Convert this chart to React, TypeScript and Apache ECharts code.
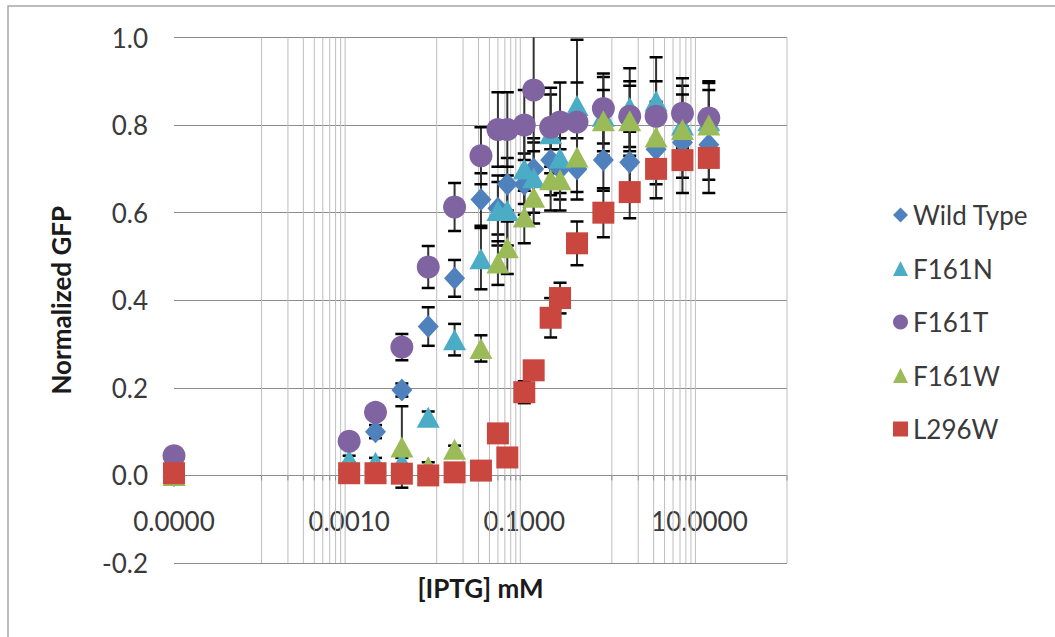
import { useEffect, useRef } from 'react';
import * as echarts from 'echarts';

// IPTG concentrations (mM); 0 is drawn at the left end of the log axis
const X_CONC = [0, 0.001, 0.002, 0.004, 0.008, 0.016, 0.032, 0.05, 0.064, 0.1, 0.128, 0.2, 0.256, 0.4, 0.8, 1.6, 3.2, 6.4, 12.8];

const WILD_TYPE = [0.0, 0.02, 0.1, 0.195, 0.34, 0.45, 0.63, 0.61, 0.665, 0.665, 0.7, 0.72, 0.7, 0.7, 0.72, 0.715, 0.745, 0.76, 0.755];
const WILD_TYPE_ERR = [0.01, 0.01, 0.015, 0.015, 0.044, 0.042, 0.06, 0.06, 0.06, 0.07, 0.07, 0.08, 0.07, 0.07, 0.07, 0.07, 0.08, 0.08, 0.08];

const F161N = [0.02, 0.035, 0.03, 0.03, 0.133, 0.31, 0.495, 0.605, 0.605, 0.7, 0.68, 0.78, 0.725, 0.845, 0.82, 0.84, 0.855, 0.8, 0.81];
const F161N_ERR = [0.01, 0.01, 0.01, 0.01, 0.013, 0.036, 0.07, 0.08, 0.08, 0.08, 0.08, 0.09, 0.08, 0.15, 0.09, 0.09, 0.1, 0.09, 0.09];

const F161T = [0.045, 0.078, 0.144, 0.293, 0.476, 0.613, 0.73, 0.79, 0.79, 0.8, 0.88, 0.795, 0.807, 0.807, 0.838, 0.82, 0.82, 0.827, 0.816];
const F161T_ERR = [0.005, 0.01, 0.01, 0.03, 0.048, 0.055, 0.065, 0.085, 0.085, 0.08, 0.14, 0.09, 0.09, 0.09, 0.08, 0.08, 0.08, 0.08, 0.08];

const F161W = [0.0, 0.01, 0.01, 0.065, 0.02, 0.06, 0.29, 0.485, 0.52, 0.59, 0.635, 0.675, 0.675, 0.727, 0.81, 0.81, 0.773, 0.79, 0.8];
const F161W_ERR = [0.005, 0.005, 0.005, 0.093, 0.01, 0.008, 0.03, 0.05, 0.06, 0.06, 0.06, 0.07, 0.07, 0.08, 0.07, 0.08, 0.08, 0.08, 0.08];

const L296W = [0.005, 0.005, 0.005, 0.004, 0.0, 0.007, 0.011, 0.096, 0.041, 0.19, 0.24, 0.36, 0.405, 0.53, 0.6, 0.647, 0.7, 0.72, 0.725];
const L296W_ERR = [0.005, 0.005, 0.005, 0.01, 0.01, 0.01, 0.01, 0.01, 0.01, 0.025, 0.02, 0.045, 0.035, 0.05, 0.056, 0.06, 0.067, 0.075, 0.08];

// axis settings
const X_MIN = 0.00001;
const X_MAX = 100;
const X_LABEL_VALUES = [0.00001, 0.001, 0.1, 10];
const X_GRID_VALUES = [
  0.0001, 0.0002, 0.0003, 0.0004, 0.0005, 0.0006, 0.0007, 0.0008, 0.0009,
  0.01, 0.02, 0.03, 0.04, 0.05, 0.06, 0.07, 0.08, 0.09,
  1, 2, 3, 4, 5, 6, 7, 8, 9,
  100,
];
const Y_MIN = -0.2;
const Y_MAX = 1.0;
const Y_STEP = 0.2;

const SERIES = [
  { name: 'Wild Type', values: WILD_TYPE, errors: WILD_TYPE_ERR, color: '#4F81BD', symbol: 'diamond', size: [21, 23] },
  { name: 'F161N', values: F161N, errors: F161N_ERR, color: '#4BACC6', symbol: 'triangle', size: [23, 21] },
  { name: 'F161T', values: F161T, errors: F161T_ERR, color: '#8064A2', symbol: 'circle', size: 23 },
  { name: 'F161W', values: F161W, errors: F161W_ERR, color: '#9BBB59', symbol: 'triangle', size: [23, 21] },
  { name: 'L296W', values: L296W, errors: L296W_ERR, color: '#C9473F', symbol: 'rect', size: 22 },
];

const FONT = 'Lato, "Open Sans", sans-serif';
const TEXT_COLOR = '#3a3a3a';

const plotX = (c: number) => (c === 0 ? X_MIN : c);

function errorBars(s: any, idx: number) {
  return {
    type: 'custom',
    id: 'err-' + idx,
    silent: true,
    clip: true,
    encode: { x: 0, y: [1, 2] },
    data: X_CONC.map((c, i) => [plotX(c), s.values[i] - s.errors[i], s.values[i] + s.errors[i]]),
    renderItem: (_params: any, api: any) => {
      const x = api.value(0);
      const top = api.coord([x, api.value(2)]);
      const bot = api.coord([x, api.value(1)]);
      const half = 6.5;
      return {
        type: 'group',
        children: [
          { type: 'line', shape: { x1: top[0], y1: top[1], x2: bot[0], y2: bot[1] }, style: { stroke: '#333', lineWidth: 2 } },
          { type: 'line', shape: { x1: top[0] - half, y1: top[1], x2: top[0] + half, y2: top[1] }, style: { stroke: '#000', lineWidth: 2.5 } },
          { type: 'line', shape: { x1: bot[0] - half, y1: bot[1], x2: bot[0] + half, y2: bot[1] }, style: { stroke: '#000', lineWidth: 2.5 } },
        ],
      };
    },
  };
}

export default function App() {
  const ref = useRef<HTMLDivElement>(null);

  useEffect(() => {
    if (!ref.current) return;
    const chart = echarts.init(ref.current, undefined, { renderer: 'svg' });

    const series: any[] = [
      {
        // light vertical gridlines of the log axis, with small ticks on the zero line
        type: 'custom',
        id: 'x-grid',
        silent: true,
        z: 1,
        encode: { x: 0, y: 1 },
        data: X_GRID_VALUES.map((v) => [v, 0]),
        renderItem: (_params: any, api: any) => {
          const x = api.value(0);
          const top = api.coord([x, Y_MAX]);
          const bot = api.coord([x, Y_MIN]);
          const zero = api.coord([x, 0]);
          return {
            type: 'group',
            children: [
              { type: 'line', shape: { x1: top[0], y1: top[1], x2: bot[0], y2: bot[1] }, style: { stroke: '#bdbdbd', lineWidth: 1 } },
              { type: 'line', shape: { x1: zero[0], y1: zero[1], x2: zero[0], y2: zero[1] + 5 }, style: { stroke: '#8c8c8c', lineWidth: 1 } },
            ],
          };
        },
      },
    ];

    SERIES.forEach((s, i) => {
      series.push(errorBars(s, i));
      series.push({
        type: 'scatter',
        name: s.name,
        symbol: s.symbol,
        symbolSize: s.size,
        itemStyle: { color: s.color, opacity: 1 },
        data: X_CONC.map((c, k) => [plotX(c), s.values[k]]),
      });
    });

    chart.setOption({
      animation: false,
      backgroundColor: '#ffffff',
      graphic: [
        {
          type: 'rect',
          silent: true,
          shape: { x: 8, y: 6, width: 1200, height: 800 },
          style: { fill: 'none', stroke: '#a6a6a6', lineWidth: 1.5 },
        },
      ],
      grid: { left: 174, right: 268, top: 37.5, bottom: 74, containLabel: false, outerBoundsMode: 'none' },
      legend: {
        data: SERIES.map((s) => s.name),
        orient: 'vertical',
        left: 893,
        top: 201,
        padding: 0,
        itemWidth: 15,
        itemHeight: 15,
        itemGap: 25.5,
        textStyle: { fontFamily: FONT, fontSize: 26, color: TEXT_COLOR, lineHeight: 28 },
      },
      xAxis: {
        type: 'log',
        logBase: 10,
        min: X_MIN,
        max: X_MAX,
        interval: 2,
        axisLine: { show: false, onZero: false },
        axisTick: { show: false },
        splitLine: { show: false },
        minorTick: { show: false },
        minorSplitLine: { show: false },
        axisLabel: {
          inside: true,
          interval: 0,
          margin: 29,
          fontFamily: FONT,
          fontSize: 26,
          color: TEXT_COLOR,
          formatter: (v: number) =>
            X_LABEL_VALUES.some((t) => Math.abs(Math.log10(v) - Math.log10(t)) < 1e-6) ? v.toFixed(4) : '',
        },
        name: '[IPTG] mM',
        nameLocation: 'middle',
        nameGap: 12,
        nameTextStyle: { fontFamily: FONT, fontSize: 26, fontWeight: 'bold', color: '#1a1a1a', verticalAlign: 'top' },
      },
      yAxis: {
        type: 'value',
        min: Y_MIN,
        max: Y_MAX,
        interval: Y_STEP,
        axisLine: { show: false },
        axisTick: { show: false },
        splitLine: { show: true, lineStyle: { color: '#8c8c8c', width: 1 } },
        axisLabel: {
          margin: 26,
          fontFamily: FONT,
          fontSize: 26,
          color: TEXT_COLOR,
          formatter: (v: number) => v.toFixed(1),
        },
        name: 'Normalized GFP',
        nameLocation: 'middle',
        nameRotate: 90,
        nameGap: 100,
        nameTextStyle: { fontFamily: FONT, fontSize: 26, fontWeight: 'bold', color: '#1a1a1a' },
      },
      series,
    });

    return () => chart.dispose();
  }, []);

  return (
    <div
      ref={ref}
      style={{ position: 'fixed', left: 0, top: 0, width: 1055, height: 637, background: '#fff' }}
    />
  );
}
